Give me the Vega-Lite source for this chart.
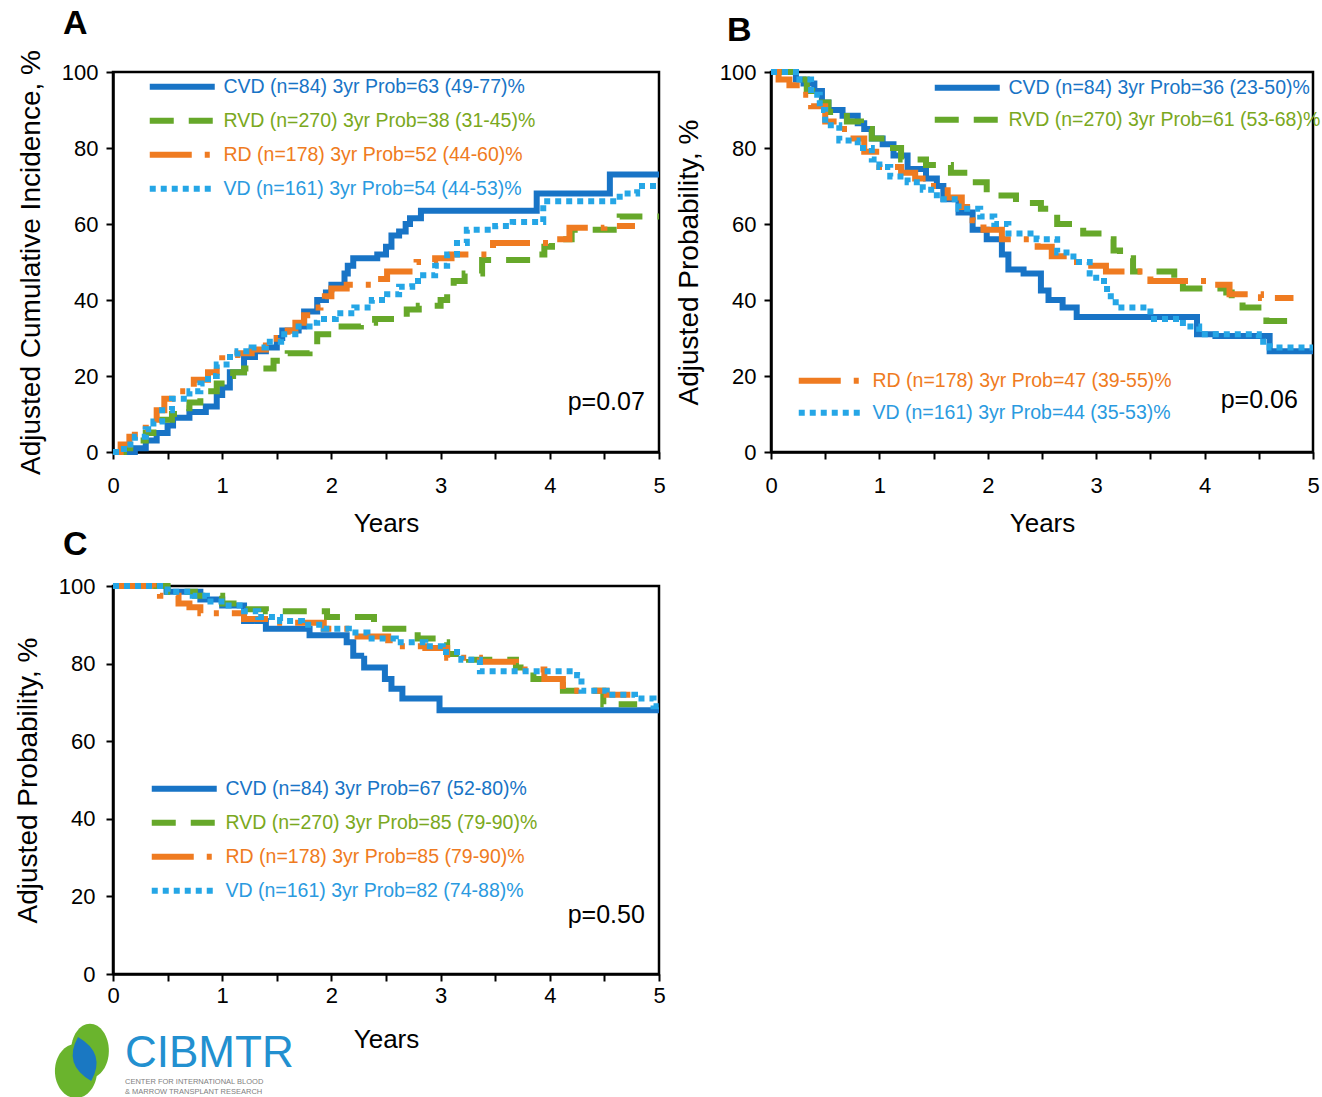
{
  "$schema": "https://vega.github.io/schema/vega-lite/v6.json",
  "padding": {"left": 13, "top": 5, "right": 0, "bottom": 0},
  "background": "white",
  "title": {"text": "CIBMTR", "subtitle": ["CENTER FOR INTERNATIONAL BLOOD", "& MARROW TRANSPLANT RESEARCH"], "orient": "bottom", "anchor": "start", "frame": "group", "dx": 12, "offset": -67, "font": "Liberation Sans", "fontSize": 44, "fontWeight": "normal", "color": "#2290d0", "subtitleFont": "Liberation Sans", "subtitleFontSize": 7.5, "subtitleColor": "#808080", "subtitlePadding": 2},
  "config": {
    "font": "Liberation Sans",
    "view": {"stroke": "black", "strokeWidth": 2.5},
    "axis": {"grid": false, "domainColor": "black", "domainWidth": 2.5, "tickColor": "black", "tickWidth": 2, "tickSize": 7, "labelFont": "Liberation Sans", "labelFontSize": 22, "labelColor": "black", "titleColor": "black", "titleFontWeight": "normal", "labelOverlap": false, "labelFlush": false},
    "axisX": {"titleFont": "Liberation Sans", "titleFontSize": 26},
    "axisY": {"titleFont": "Liberation Sans", "titleFontSize": 28},
    "legend": {"labelFont": "Liberation Sans", "labelFontSize": 19.5, "labelLimit": 0, "symbolStrokeWidth": 6, "rowPadding": 9, "labelOffset": 59, "padding": 0, "orient": "none", "title": null},
    "title": {"font": "Liberation Sans", "fontSize": 34, "fontWeight": "bold", "anchor": "start", "frame": "group", "color": "black"}
  },
  "datasets": {
    "A": [
      {"s":"CVD","t":0,"v":0},{"s":"CVD","t":0.2,"v":1},{"s":"CVD","t":0.3,"v":3},{"s":"CVD","t":0.4,"v":5},{"s":"CVD","t":0.5,"v":7},{"s":"CVD","t":0.55,"v":9},{"s":"CVD","t":0.7,"v":10.5},{"s":"CVD","t":0.85,"v":12},{"s":"CVD","t":0.95,"v":15},{"s":"CVD","t":1.0,"v":17},{"s":"CVD","t":1.07,"v":21},{"s":"CVD","t":1.2,"v":25},{"s":"CVD","t":1.3,"v":26.5},{"s":"CVD","t":1.4,"v":27.5},{"s":"CVD","t":1.5,"v":30},{"s":"CVD","t":1.55,"v":32},{"s":"CVD","t":1.7,"v":33},{"s":"CVD","t":1.75,"v":37},{"s":"CVD","t":1.87,"v":40},{"s":"CVD","t":1.95,"v":42},{"s":"CVD","t":2.0,"v":44},{"s":"CVD","t":2.12,"v":47},{"s":"CVD","t":2.15,"v":49},{"s":"CVD","t":2.2,"v":51},{"s":"CVD","t":2.42,"v":52},{"s":"CVD","t":2.5,"v":54},{"s":"CVD","t":2.55,"v":57},{"s":"CVD","t":2.62,"v":58},{"s":"CVD","t":2.68,"v":60},{"s":"CVD","t":2.72,"v":61.5},{"s":"CVD","t":2.82,"v":63.5},{"s":"CVD","t":3.88,"v":68},{"s":"CVD","t":4.55,"v":73},{"s":"CVD","t":5.0,"v":73},
      {"s":"RVD","t":0,"v":0},{"s":"RVD","t":0.1,"v":1},{"s":"RVD","t":0.2,"v":3},{"s":"RVD","t":0.3,"v":5},{"s":"RVD","t":0.37,"v":7},{"s":"RVD","t":0.45,"v":8.5},{"s":"RVD","t":0.54,"v":10},{"s":"RVD","t":0.62,"v":11.5},{"s":"RVD","t":0.7,"v":13},{"s":"RVD","t":0.8,"v":14.5},{"s":"RVD","t":0.87,"v":16},{"s":"RVD","t":0.95,"v":18},{"s":"RVD","t":1.03,"v":20},{"s":"RVD","t":1.1,"v":21},{"s":"RVD","t":1.2,"v":22},{"s":"RVD","t":1.47,"v":24},{"s":"RVD","t":1.6,"v":26},{"s":"RVD","t":1.8,"v":28},{"s":"RVD","t":1.87,"v":31},{"s":"RVD","t":2.0,"v":33},{"s":"RVD","t":2.27,"v":34},{"s":"RVD","t":2.4,"v":35},{"s":"RVD","t":2.69,"v":37.5},{"s":"RVD","t":2.8,"v":38.5},{"s":"RVD","t":3.0,"v":40},{"s":"RVD","t":3.06,"v":43},{"s":"RVD","t":3.12,"v":45},{"s":"RVD","t":3.22,"v":47},{"s":"RVD","t":3.38,"v":50.5},{"s":"RVD","t":3.88,"v":52},{"s":"RVD","t":3.95,"v":54},{"s":"RVD","t":4.02,"v":56},{"s":"RVD","t":4.2,"v":58.5},{"s":"RVD","t":4.64,"v":62},{"s":"RVD","t":5.0,"v":62},
      {"s":"RD","t":0,"v":0},{"s":"RD","t":0.07,"v":2},{"s":"RD","t":0.15,"v":4},{"s":"RD","t":0.2,"v":6},{"s":"RD","t":0.3,"v":8.5},{"s":"RD","t":0.4,"v":11},{"s":"RD","t":0.47,"v":14},{"s":"RD","t":0.6,"v":16},{"s":"RD","t":0.74,"v":19},{"s":"RD","t":0.87,"v":21},{"s":"RD","t":0.95,"v":24},{"s":"RD","t":1.0,"v":25.5},{"s":"RD","t":1.14,"v":26},{"s":"RD","t":1.27,"v":27},{"s":"RD","t":1.4,"v":28},{"s":"RD","t":1.5,"v":30},{"s":"RD","t":1.6,"v":32},{"s":"RD","t":1.67,"v":34},{"s":"RD","t":1.75,"v":36},{"s":"RD","t":1.81,"v":38},{"s":"RD","t":1.9,"v":40},{"s":"RD","t":1.94,"v":41},{"s":"RD","t":2.0,"v":43},{"s":"RD","t":2.14,"v":44},{"s":"RD","t":2.41,"v":45.5},{"s":"RD","t":2.51,"v":47.5},{"s":"RD","t":2.78,"v":50},{"s":"RD","t":2.95,"v":51},{"s":"RD","t":3.1,"v":52},{"s":"RD","t":3.48,"v":55},{"s":"RD","t":4.03,"v":56},{"s":"RD","t":4.18,"v":59},{"s":"RD","t":4.5,"v":59.5},{"s":"RD","t":4.78,"v":59.5},
      {"s":"VD","t":0,"v":0},{"s":"VD","t":0.1,"v":2},{"s":"VD","t":0.2,"v":4},{"s":"VD","t":0.3,"v":6},{"s":"VD","t":0.37,"v":8},{"s":"VD","t":0.45,"v":11},{"s":"VD","t":0.54,"v":14},{"s":"VD","t":0.7,"v":16},{"s":"VD","t":0.8,"v":18},{"s":"VD","t":0.87,"v":20},{"s":"VD","t":0.95,"v":23},{"s":"VD","t":1.04,"v":25},{"s":"VD","t":1.14,"v":26.5},{"s":"VD","t":1.27,"v":27.5},{"s":"VD","t":1.4,"v":29},{"s":"VD","t":1.54,"v":31},{"s":"VD","t":1.67,"v":33},{"s":"VD","t":1.8,"v":34},{"s":"VD","t":1.87,"v":35},{"s":"VD","t":2.04,"v":36.5},{"s":"VD","t":2.21,"v":38},{"s":"VD","t":2.37,"v":40},{"s":"VD","t":2.51,"v":41.5},{"s":"VD","t":2.62,"v":43.5},{"s":"VD","t":2.74,"v":45},{"s":"VD","t":2.84,"v":46.5},{"s":"VD","t":2.95,"v":49},{"s":"VD","t":3.06,"v":52},{"s":"VD","t":3.15,"v":55},{"s":"VD","t":3.24,"v":58.5},{"s":"VD","t":3.5,"v":59.5},{"s":"VD","t":3.66,"v":60.5},{"s":"VD","t":3.94,"v":66},{"s":"VD","t":4.64,"v":68},{"s":"VD","t":4.8,"v":70},{"s":"VD","t":5.0,"v":70}
    ],
    "B": [
      {"s":"CVD","t":0,"v":100},{"s":"CVD","t":0.23,"v":98},{"s":"CVD","t":0.3,"v":97},{"s":"CVD","t":0.4,"v":95},{"s":"CVD","t":0.47,"v":92},{"s":"CVD","t":0.53,"v":90},{"s":"CVD","t":0.66,"v":88.5},{"s":"CVD","t":0.8,"v":86.5},{"s":"CVD","t":0.86,"v":85},{"s":"CVD","t":0.93,"v":82.5},{"s":"CVD","t":1.03,"v":81},{"s":"CVD","t":1.13,"v":78},{"s":"CVD","t":1.26,"v":74.5},{"s":"CVD","t":1.43,"v":72},{"s":"CVD","t":1.53,"v":70},{"s":"CVD","t":1.59,"v":66.5},{"s":"CVD","t":1.73,"v":63},{"s":"CVD","t":1.86,"v":58.5},{"s":"CVD","t":1.99,"v":56},{"s":"CVD","t":2.13,"v":52},{"s":"CVD","t":2.19,"v":48},{"s":"CVD","t":2.33,"v":47},{"s":"CVD","t":2.49,"v":42.5},{"s":"CVD","t":2.56,"v":40},{"s":"CVD","t":2.69,"v":38},{"s":"CVD","t":2.82,"v":35.5},{"s":"CVD","t":3.93,"v":31},{"s":"CVD","t":4.1,"v":30.5},{"s":"CVD","t":4.6,"v":26.5},{"s":"CVD","t":5.0,"v":26.5},
      {"s":"RVD","t":0,"v":100},{"s":"RVD","t":0.2,"v":98},{"s":"RVD","t":0.33,"v":95},{"s":"RVD","t":0.43,"v":92},{"s":"RVD","t":0.53,"v":89.5},{"s":"RVD","t":0.7,"v":87},{"s":"RVD","t":0.83,"v":85},{"s":"RVD","t":0.93,"v":82.5},{"s":"RVD","t":1.06,"v":80},{"s":"RVD","t":1.2,"v":77},{"s":"RVD","t":1.43,"v":75.5},{"s":"RVD","t":1.66,"v":73.5},{"s":"RVD","t":1.86,"v":71},{"s":"RVD","t":1.99,"v":67.5},{"s":"RVD","t":2.26,"v":65.5},{"s":"RVD","t":2.49,"v":64},{"s":"RVD","t":2.64,"v":60},{"s":"RVD","t":2.88,"v":57.5},{"s":"RVD","t":3.06,"v":56},{"s":"RVD","t":3.16,"v":53},{"s":"RVD","t":3.22,"v":51},{"s":"RVD","t":3.34,"v":47.5},{"s":"RVD","t":3.72,"v":45.5},{"s":"RVD","t":3.8,"v":43},{"s":"RVD","t":4.2,"v":42},{"s":"RVD","t":4.25,"v":40},{"s":"RVD","t":4.35,"v":38},{"s":"RVD","t":4.57,"v":34.5},{"s":"RVD","t":4.88,"v":34.5},
      {"s":"RD","t":0,"v":100},{"s":"RD","t":0.07,"v":98},{"s":"RD","t":0.17,"v":96.5},{"s":"RD","t":0.27,"v":94},{"s":"RD","t":0.37,"v":91},{"s":"RD","t":0.5,"v":87},{"s":"RD","t":0.63,"v":85},{"s":"RD","t":0.73,"v":82.5},{"s":"RD","t":0.86,"v":79},{"s":"RD","t":1.0,"v":75},{"s":"RD","t":1.2,"v":73.5},{"s":"RD","t":1.33,"v":72},{"s":"RD","t":1.46,"v":70},{"s":"RD","t":1.63,"v":67},{"s":"RD","t":1.76,"v":64.5},{"s":"RD","t":1.86,"v":61},{"s":"RD","t":1.96,"v":58.5},{"s":"RD","t":2.13,"v":56},{"s":"RD","t":2.46,"v":54},{"s":"RD","t":2.59,"v":51.5},{"s":"RD","t":2.79,"v":50},{"s":"RD","t":2.92,"v":49},{"s":"RD","t":3.09,"v":47.5},{"s":"RD","t":3.5,"v":45},{"s":"RD","t":4.07,"v":44},{"s":"RD","t":4.23,"v":41.5},{"s":"RD","t":4.52,"v":40.5},{"s":"RD","t":4.82,"v":40.5},
      {"s":"VD","t":0,"v":100},{"s":"VD","t":0.23,"v":98},{"s":"VD","t":0.37,"v":94},{"s":"VD","t":0.45,"v":90},{"s":"VD","t":0.5,"v":86},{"s":"VD","t":0.63,"v":82},{"s":"VD","t":0.8,"v":80},{"s":"VD","t":0.93,"v":77},{"s":"VD","t":1.0,"v":75},{"s":"VD","t":1.1,"v":72.5},{"s":"VD","t":1.26,"v":71},{"s":"VD","t":1.4,"v":69},{"s":"VD","t":1.53,"v":66.5},{"s":"VD","t":1.73,"v":64},{"s":"VD","t":1.93,"v":62},{"s":"VD","t":2.06,"v":60},{"s":"VD","t":2.19,"v":57.5},{"s":"VD","t":2.45,"v":56},{"s":"VD","t":2.64,"v":52.5},{"s":"VD","t":2.79,"v":50},{"s":"VD","t":2.94,"v":47},{"s":"VD","t":3.0,"v":45},{"s":"VD","t":3.1,"v":41},{"s":"VD","t":3.18,"v":38},{"s":"VD","t":3.5,"v":35},{"s":"VD","t":3.8,"v":33},{"s":"VD","t":3.95,"v":31},{"s":"VD","t":4.5,"v":29},{"s":"VD","t":4.6,"v":27.5},{"s":"VD","t":5.0,"v":27.5}
    ],
    "C": [
      {"s":"CVD","t":0,"v":100},{"s":"CVD","t":0.49,"v":98.5},{"s":"CVD","t":0.8,"v":96.5},{"s":"CVD","t":1.0,"v":95},{"s":"CVD","t":1.2,"v":91},{"s":"CVD","t":1.4,"v":89},{"s":"CVD","t":1.8,"v":87.3},{"s":"CVD","t":2.14,"v":85.5},{"s":"CVD","t":2.2,"v":82},{"s":"CVD","t":2.3,"v":79},{"s":"CVD","t":2.49,"v":76},{"s":"CVD","t":2.55,"v":73.5},{"s":"CVD","t":2.65,"v":71},{"s":"CVD","t":2.99,"v":68},{"s":"CVD","t":5.0,"v":68},
      {"s":"RVD","t":0,"v":100},{"s":"RVD","t":0.5,"v":98.5},{"s":"RVD","t":0.75,"v":97.5},{"s":"RVD","t":1.0,"v":95.5},{"s":"RVD","t":1.2,"v":94},{"s":"RVD","t":1.4,"v":93.5},{"s":"RVD","t":1.96,"v":92},{"s":"RVD","t":2.39,"v":89},{"s":"RVD","t":2.79,"v":86.5},{"s":"RVD","t":2.99,"v":85.5},{"s":"RVD","t":3.06,"v":82.5},{"s":"RVD","t":3.26,"v":81},{"s":"RVD","t":3.69,"v":79},{"s":"RVD","t":3.85,"v":76},{"s":"RVD","t":4.12,"v":73},{"s":"RVD","t":4.49,"v":69.5},{"s":"RVD","t":4.8,"v":69.5},
      {"s":"RD","t":0,"v":100},{"s":"RD","t":0.37,"v":98.5},{"s":"RD","t":0.43,"v":97.5},{"s":"RD","t":0.6,"v":95.5},{"s":"RD","t":0.7,"v":94.5},{"s":"RD","t":0.8,"v":93},{"s":"RD","t":1.2,"v":91.5},{"s":"RD","t":1.5,"v":90.5},{"s":"RD","t":1.93,"v":89},{"s":"RD","t":2.19,"v":87},{"s":"RD","t":2.52,"v":86},{"s":"RD","t":2.62,"v":84.5},{"s":"RD","t":2.86,"v":84},{"s":"RD","t":3.06,"v":81.5},{"s":"RD","t":3.36,"v":80.5},{"s":"RD","t":3.69,"v":78.5},{"s":"RD","t":3.95,"v":76},{"s":"RD","t":4.12,"v":73},{"s":"RD","t":4.52,"v":72},{"s":"RD","t":4.78,"v":72},
      {"s":"VD","t":0,"v":100},{"s":"VD","t":0.5,"v":98.5},{"s":"VD","t":0.73,"v":97.5},{"s":"VD","t":0.86,"v":96},{"s":"VD","t":1.03,"v":95},{"s":"VD","t":1.2,"v":93.5},{"s":"VD","t":1.33,"v":92},{"s":"VD","t":1.53,"v":91},{"s":"VD","t":1.73,"v":90},{"s":"VD","t":1.93,"v":89},{"s":"VD","t":2.16,"v":88},{"s":"VD","t":2.33,"v":86.5},{"s":"VD","t":2.59,"v":85.5},{"s":"VD","t":2.86,"v":84.5},{"s":"VD","t":3.02,"v":83},{"s":"VD","t":3.19,"v":81},{"s":"VD","t":3.36,"v":78},{"s":"VD","t":4.25,"v":77},{"s":"VD","t":4.29,"v":73},{"s":"VD","t":4.52,"v":72},{"s":"VD","t":4.78,"v":71},{"s":"VD","t":4.95,"v":69},{"s":"VD","t":5.0,"v":69}
    ]
  },
  "resolve": {"scale": {"color": "independent", "strokeDash": "independent"}},
  "spacing": -12,
  "vconcat": [
    {
      "spacing": 1,
      "resolve": {"scale": {"color": "independent", "strokeDash": "independent"}},
      "hconcat": [
        {
          "width": 546, "height": 380,
          "title": {"text": "A", "dx": -50, "offset": 8.5},
          "data": {"name": "A"},
          "layer": [
            {
              "mark": {"type": "line", "interpolate": "step-after", "strokeWidth": 6, "strokeCap": "butt"},
              "encoding": {
                "x": {"field": "t", "type": "quantitative", "scale": {"domain": [0, 5], "nice": false}, "axis": {"values": [0,0.5,1,1.5,2,2.5,3,3.5,4,4.5,5], "labelExpr": "datum.value % 1 === 0 ? format(datum.value, 'd') : ''", "title": "Years", "labelPadding": 16, "titlePadding": 14}},
                "y": {"field": "v", "type": "quantitative", "scale": {"domain": [0, 100], "nice": false}, "axis": {"values": [0,10,20,30,40,50,60,70,80,90,100], "labelExpr": "datum.value % 20 === 0 ? format(datum.value, 'd') : ''", "title": "Adjusted Cumulative Incidence, %", "labelPadding": 8, "titlePadding": 16}},
                "color": {"field": "s", "type": "nominal", "scale": {"domain": ["CVD","RVD","RD","VD"], "range": ["#1874c6","#66a82a","#ef7b21","#25a6e6"]},
                  "legend": {"title": null, "symbolType": "M-1,0L12,0", "symbolSize": 100, "legendX": 32, "legendY": 5, "labelExpr": "datum.value === 'CVD' ? 'CVD (n=84) 3yr Prob=63 (49-77)%' : datum.value === 'RVD' ? 'RVD (n=270) 3yr Prob=38 (31-45)%' : datum.value === 'RD' ? 'RD (n=178) 3yr Prob=52 (44-60)%' : 'VD (n=161) 3yr Prob=54 (44-53)%'",
                    "encoding": {"labels": {"fill": {"condition": [{"test": "datum.value === 'CVD'", "value": "#1874c6"}, {"test": "datum.value === 'RVD'", "value": "#7aa820"}, {"test": "datum.value === 'RD'", "value": "#ef7b21"}], "value": "#2a9ae0"}}}}},
                "strokeDash": {"field": "s", "type": "nominal", "scale": {"domain": ["CVD","RVD","RD","VD"], "range": [[1,0],[24,15],[42,13,5,13],[6,5]]},
                  "legend": {"title": null, "symbolType": "M-1,0L12,0", "symbolSize": 100, "legendX": 32, "legendY": 5, "labelExpr": "datum.value === 'CVD' ? 'CVD (n=84) 3yr Prob=63 (49-77)%' : datum.value === 'RVD' ? 'RVD (n=270) 3yr Prob=38 (31-45)%' : datum.value === 'RD' ? 'RD (n=178) 3yr Prob=52 (44-60)%' : 'VD (n=161) 3yr Prob=54 (44-53)%'",
                    "encoding": {"labels": {"fill": {"condition": [{"test": "datum.value === 'CVD'", "value": "#1874c6"}, {"test": "datum.value === 'RVD'", "value": "#7aa820"}, {"test": "datum.value === 'RD'", "value": "#ef7b21"}], "value": "#2a9ae0"}}}}}
              }
            },
            {
              "data": {"values": [{}]},
              "mark": {"type": "text", "align": "right", "baseline": "middle", "fontSize": 25, "font": "Liberation Sans", "color": "black"},
              "encoding": {"x": {"datum": 4.87, "type": "quantitative"}, "y": {"datum": 13.2, "type": "quantitative"}, "text": {"value": "p=0.07"}}
            }
          ]
        },
        {
          "width": 542, "height": 380,
          "title": {"text": "B", "dx": -44, "offset": 12},
          "data": {"name": "B"},
          "resolve": {"scale": {"color": "independent", "strokeDash": "independent"}},
          "layer": [
            {
              "transform": [{"filter": "datum.s === 'CVD' || datum.s === 'RVD'"}],
              "mark": {"type": "line", "interpolate": "step-after", "strokeWidth": 6, "strokeCap": "butt"},
              "encoding": {
                "x": {"field": "t", "type": "quantitative", "scale": {"domain": [0, 5], "nice": false}, "axis": {"values": [0,0.5,1,1.5,2,2.5,3,3.5,4,4.5,5], "labelExpr": "datum.value % 1 === 0 ? format(datum.value, 'd') : ''", "title": "Years", "labelPadding": 16, "titlePadding": 14}},
                "y": {"field": "v", "type": "quantitative", "scale": {"domain": [0, 100], "nice": false}, "axis": {"values": [0,10,20,30,40,50,60,70,80,90,100], "labelExpr": "datum.value % 20 === 0 ? format(datum.value, 'd') : ''", "title": "Adjusted Probability, %", "labelPadding": 8, "titlePadding": 16}},
                "color": {"field": "s", "type": "nominal", "scale": {"domain": ["CVD","RVD"], "range": ["#1874c6","#66a82a"]},
                  "legend": {"title": null, "symbolType": "M-1,0L12,0", "symbolSize": 100, "legendX": 159, "legendY": 6, "rowPadding": 7, "labelExpr": "datum.value === 'CVD' ? 'CVD (n=84) 3yr Prob=36 (23-50)%' : 'RVD (n=270) 3yr Prob=61 (53-68)%'",
                    "encoding": {"labels": {"fill": {"condition": [{"test": "datum.value === 'CVD'", "value": "#1874c6"}], "value": "#7aa820"}}}}},
                "strokeDash": {"field": "s", "type": "nominal", "scale": {"domain": ["CVD","RVD"], "range": [[1,0],[24,15]]},
                  "legend": {"title": null, "symbolType": "M-1,0L12,0", "symbolSize": 100, "legendX": 159, "legendY": 6, "rowPadding": 7, "labelExpr": "datum.value === 'CVD' ? 'CVD (n=84) 3yr Prob=36 (23-50)%' : 'RVD (n=270) 3yr Prob=61 (53-68)%'",
                    "encoding": {"labels": {"fill": {"condition": [{"test": "datum.value === 'CVD'", "value": "#1874c6"}], "value": "#7aa820"}}}}}
              }
            },
            {
              "transform": [{"filter": "datum.s === 'RD' || datum.s === 'VD'"}],
              "mark": {"type": "line", "interpolate": "step-after", "strokeWidth": 6, "strokeCap": "butt"},
              "encoding": {
                "x": {"field": "t", "type": "quantitative"},
                "y": {"field": "v", "type": "quantitative"},
                "color": {"field": "s", "type": "nominal", "scale": {"domain": ["RD","VD"], "range": ["#ef7b21","#25a6e6"]},
                  "legend": {"title": null, "symbolType": "M-1,0L12,0", "symbolSize": 100, "legendX": 23, "legendY": 299, "rowPadding": 7, "labelExpr": "datum.value === 'RD' ? 'RD (n=178) 3yr Prob=47 (39-55)%' : 'VD (n=161) 3yr Prob=44 (35-53)%'",
                    "encoding": {"labels": {"fill": {"condition": [{"test": "datum.value === 'RD'", "value": "#ef7b21"}], "value": "#2a9ae0"}}}}},
                "strokeDash": {"field": "s", "type": "nominal", "scale": {"domain": ["RD","VD"], "range": [[42,13,5,13],[6,5]]},
                  "legend": {"title": null, "symbolType": "M-1,0L12,0", "symbolSize": 100, "legendX": 23, "legendY": 299, "rowPadding": 7, "labelExpr": "datum.value === 'RD' ? 'RD (n=178) 3yr Prob=47 (39-55)%' : 'VD (n=161) 3yr Prob=44 (35-53)%'",
                    "encoding": {"labels": {"fill": {"condition": [{"test": "datum.value === 'RD'", "value": "#ef7b21"}], "value": "#2a9ae0"}}}}}
              }
            },
            {
              "data": {"values": [{}]},
              "mark": {"type": "text", "align": "right", "baseline": "middle", "fontSize": 25, "font": "Liberation Sans", "color": "black"},
              "encoding": {"x": {"datum": 4.86, "type": "quantitative"}, "y": {"datum": 13.8, "type": "quantitative"}, "text": {"value": "p=0.06"}}
            }
          ]
        }
      ]
    },
    {
      "width": 546, "height": 388,
      "title": {"text": "C", "dx": -50, "offset": 12},
      "data": {"name": "C"},
      "layer": [
        {
          "mark": {"type": "line", "interpolate": "step-after", "strokeWidth": 6, "strokeCap": "butt"},
          "encoding": {
            "x": {"field": "t", "type": "quantitative", "scale": {"domain": [0, 5], "nice": false}, "axis": {"values": [0,0.5,1,1.5,2,2.5,3,3.5,4,4.5,5], "labelExpr": "datum.value % 1 === 0 ? format(datum.value, 'd') : ''", "title": "Years", "labelPadding": 4, "titlePadding": 20}},
            "y": {"field": "v", "type": "quantitative", "scale": {"domain": [0, 100], "nice": false}, "axis": {"values": [0,10,20,30,40,50,60,70,80,90,100], "labelExpr": "datum.value % 20 === 0 ? format(datum.value, 'd') : ''", "title": "Adjusted Probability, %", "labelPadding": 11, "titlePadding": 16}},
            "color": {"field": "s", "type": "nominal", "scale": {"domain": ["CVD","RVD","RD","VD"], "range": ["#1874c6","#66a82a","#ef7b21","#25a6e6"]},
              "legend": {"title": null, "symbolType": "M-1,0L12,0", "symbolSize": 100, "legendX": 34, "legendY": 193, "labelExpr": "datum.value === 'CVD' ? 'CVD (n=84) 3yr Prob=67 (52-80)%' : datum.value === 'RVD' ? 'RVD (n=270) 3yr Prob=85 (79-90)%' : datum.value === 'RD' ? 'RD (n=178) 3yr Prob=85 (79-90)%' : 'VD (n=161) 3yr Prob=82 (74-88)%'",
                "encoding": {"labels": {"fill": {"condition": [{"test": "datum.value === 'CVD'", "value": "#1874c6"}, {"test": "datum.value === 'RVD'", "value": "#7aa820"}, {"test": "datum.value === 'RD'", "value": "#ef7b21"}], "value": "#2a9ae0"}}}}},
            "strokeDash": {"field": "s", "type": "nominal", "scale": {"domain": ["CVD","RVD","RD","VD"], "range": [[1,0],[24,15],[42,13,5,13],[6,5]]},
              "legend": {"title": null, "symbolType": "M-1,0L12,0", "symbolSize": 100, "legendX": 34, "legendY": 193, "labelExpr": "datum.value === 'CVD' ? 'CVD (n=84) 3yr Prob=67 (52-80)%' : datum.value === 'RVD' ? 'RVD (n=270) 3yr Prob=85 (79-90)%' : datum.value === 'RD' ? 'RD (n=178) 3yr Prob=85 (79-90)%' : 'VD (n=161) 3yr Prob=82 (74-88)%'",
                "encoding": {"labels": {"fill": {"condition": [{"test": "datum.value === 'CVD'", "value": "#1874c6"}, {"test": "datum.value === 'RVD'", "value": "#7aa820"}, {"test": "datum.value === 'RD'", "value": "#ef7b21"}], "value": "#2a9ae0"}}}}}
          }
        },
        {
          "data": {"values": [{}]},
          "mark": {"type": "text", "align": "right", "baseline": "middle", "fontSize": 25, "font": "Liberation Sans", "color": "black"},
          "encoding": {"x": {"datum": 4.87, "type": "quantitative"}, "y": {"datum": 15.2, "type": "quantitative"}, "text": {"value": "p=0.50"}}
        },
        {
          "data": {"values": [{}]},
          "mark": {"type": "point", "filled": true, "opacity": 1, "color": "#6ab42d", "strokeWidth": 0, "size": 2916, "shape": "M-0.78,0A0.78,1,0,1,0,0.78,0A0.78,1,0,1,0,-0.78,0Z"},
          "encoding": {"x": {"datum": -0.339, "type": "quantitative"}, "y": {"datum": -25, "type": "quantitative"}}
        },
        {
          "data": {"values": [{}]},
          "mark": {"type": "point", "filled": true, "opacity": 1, "color": "#6ab42d", "strokeWidth": 0, "size": 2916, "shape": "M-0.7,0A0.7,1,0,1,0,0.7,0A0.7,1,0,1,0,-0.7,0Z"},
          "encoding": {"x": {"datum": -0.211, "type": "quantitative"}, "y": {"datum": -19.8, "type": "quantitative"}}
        },
        {
          "data": {"values": [{}]},
          "mark": {"type": "point", "filled": true, "opacity": 1, "color": "#1a78c2", "strokeWidth": 0, "size": 1936, "shape": "M-0.3,-1Q1.0,-0.25,0.3,1Q-1.0,0.25,-0.3,-1Z"},
          "encoding": {"x": {"datum": -0.26, "type": "quantitative"}, "y": {"datum": -21.9, "type": "quantitative"}}
        }
      ]
    }
  ]
}
